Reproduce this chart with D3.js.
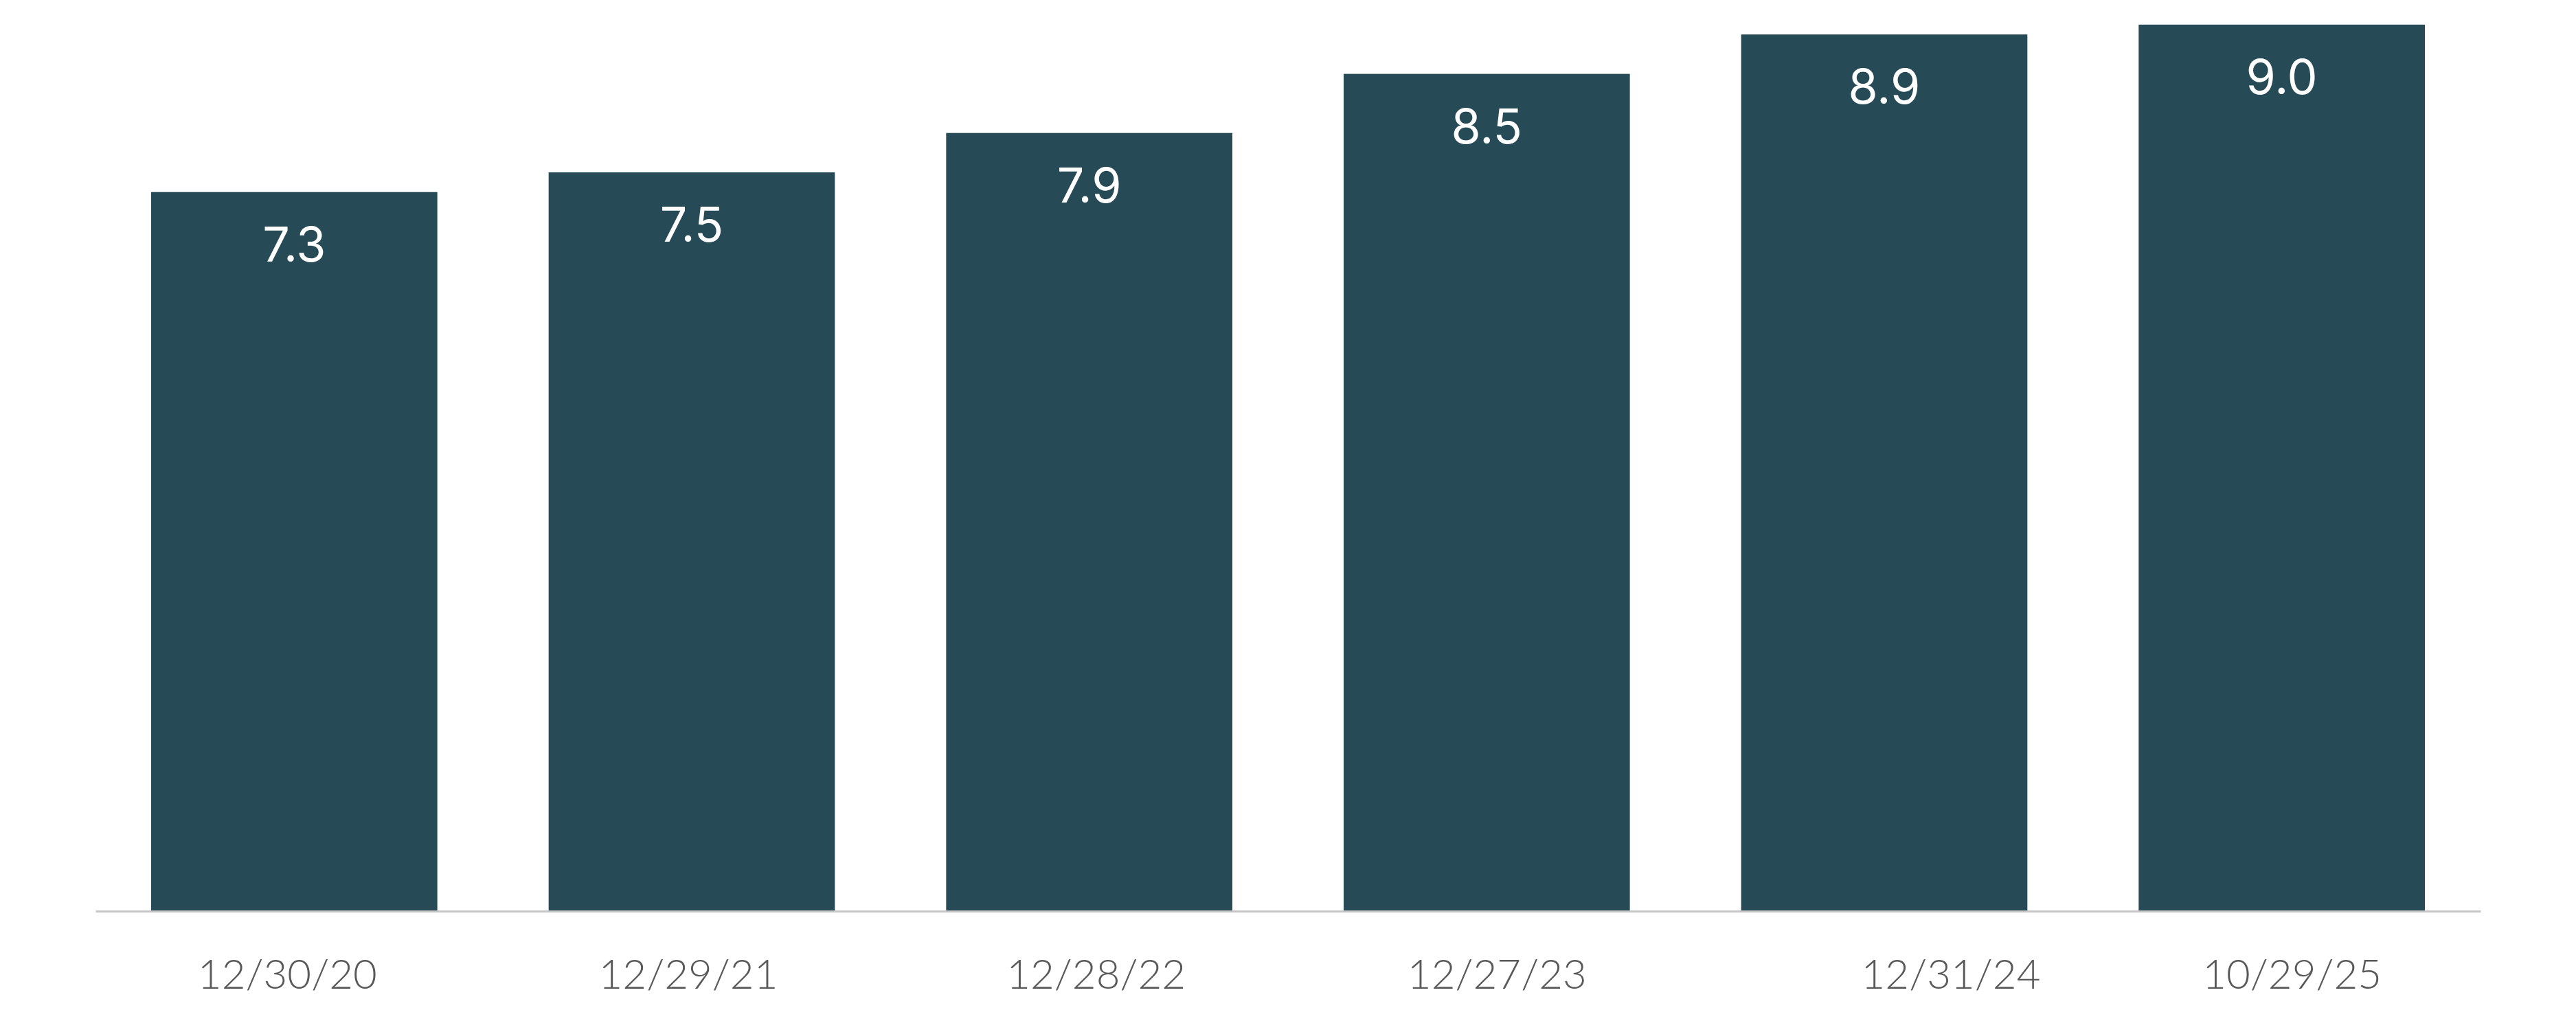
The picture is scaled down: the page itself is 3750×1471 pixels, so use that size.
<!DOCTYPE html>
<html>
<head>
<meta charset="utf-8">
<script src="https://cdn.jsdelivr.net/npm/d3@7"></script>
<style>
  html, body { margin: 0; padding: 0; background: #ffffff; }
  svg { display: block; }
</style>
</head>
<body>
<svg id="chart" width="3750" height="1471"></svg>
<script>
// ---- data ----
const categories = ["12/30/20", "12/29/21", "12/28/22", "12/27/23", "12/31/24", "10/29/25"];
const values = [7.3, 7.5, 7.9, 8.5, 8.9, 9.0];
const valueLabels = ["7.3", "7.5", "7.9", "8.5", "8.9", "9.0"];

// ---- layout ----
const W = 3750, H = 1471;
const plot = { left: 139, right: 3611, top: 0, bottom: 1327 };
const tickNudge = [-10, -5, 10, 15, 97, 15]; // horizontal label shifts seen in the original
const barColor = "#264b57";

const svg = d3.select("#chart");

const x = d3.scaleBand()
  .domain(categories)
  .range([plot.left, plot.right])
  .paddingInner(0.28)
  .paddingOuter(0.14);

const y = d3.scaleLinear()
  .domain([0, 9.25])
  .range([plot.bottom, plot.top]);

const rows = categories.map((c, i) => ({ cat: c, v: values[i], label: valueLabels[i], i }));

// bars
svg.append("g").selectAll("rect")
  .data(rows)
  .join("rect")
  .attr("x", d => x(d.cat))
  .attr("y", d => y(d.v))
  .attr("width", x.bandwidth())
  .attr("height", d => y(0) - y(d.v))
  .attr("fill", barColor);

// axis
const axis = d3.axisBottom(x).tickSize(0).tickSizeOuter(0).tickPadding(70);
const gx = svg.append("g")
  .attr("transform", `translate(0,${plot.bottom})`)
  .call(axis);
gx.select(".domain")
  .attr("stroke", "#c6c6c6")
  .attr("stroke-width", 3);
gx.selectAll(".tick text")
  .attr("font-family", "Lato, 'Open Sans', sans-serif")
  .attr("font-weight", 300)
  .attr("font-size", 60)
  .attr("fill", "#595959")
  .attr("dx", (d, i) => tickNudge[i]);

// value labels
svg.append("g").selectAll("text")
  .data(rows)
  .join("text")
  .attr("x", d => x(d.cat) + x.bandwidth() / 2)
  .attr("y", d => y(d.v) + 101)
  .attr("text-anchor", "middle")
  .attr("font-family", "Inter, 'Open Sans', sans-serif")
  .attr("font-weight", 400)
  .attr("font-size", 70)
  .attr("fill", "#ffffff")
  .text(d => d.label);
</script>
</body>
</html>
